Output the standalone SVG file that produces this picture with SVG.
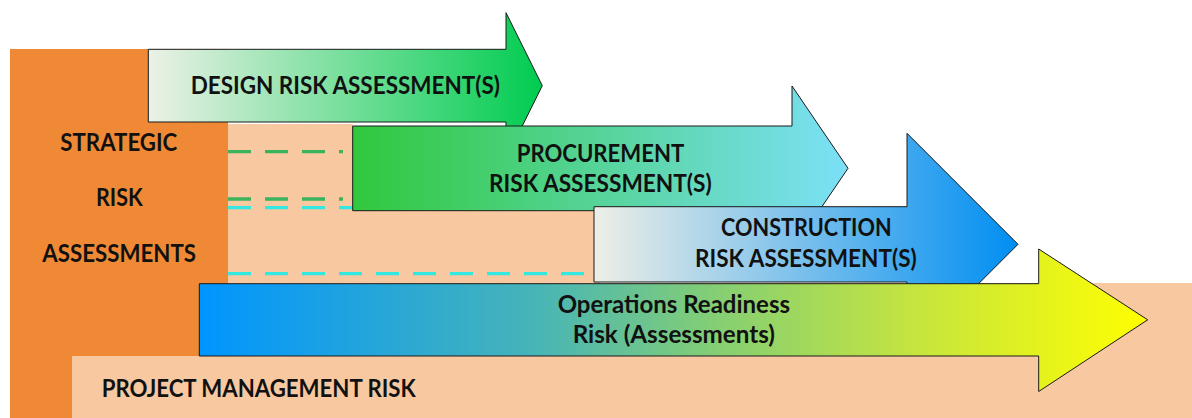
<svg xmlns="http://www.w3.org/2000/svg" width="1192" height="418" viewBox="0 0 1192 418">
<style>
.lbl{font-family:Lato,"Open Sans","Liberation Sans",sans-serif;font-weight:700;font-size:24px;fill:#111}
.arrow{stroke:#1a1a1a;stroke-width:1}
.dg{stroke:#3bb35c;stroke-width:3.3;stroke-dasharray:23 14;fill:none}
.dc{stroke:#33e8e0;stroke-width:3.3;stroke-dasharray:23 14;fill:none}
</style>
<defs>
<linearGradient id="gDesign" x1="0" y1="0" x2="1" y2="0">
<stop offset="0" stop-color="#ecf1e7"/>
<stop offset="1" stop-color="#00cc50"/>
</linearGradient>
<linearGradient id="gProc" x1="0" y1="0" x2="1" y2="0">
<stop offset="0" stop-color="#30c83c"/>
<stop offset="1" stop-color="#7ce0f8"/>
</linearGradient>
<linearGradient id="gCons" x1="0" y1="0" x2="1" y2="0">
<stop offset="0" stop-color="#eeefe6"/>
<stop offset="1" stop-color="#008ef2"/>
</linearGradient>
<linearGradient id="gOps" x1="0" y1="0" x2="1" y2="0">
<stop offset="0" stop-color="#0095ff"/>
<stop offset="0.35" stop-color="#46b4b8"/>
<stop offset="0.55" stop-color="#86cf72"/>
<stop offset="0.75" stop-color="#c4e440"/>
<stop offset="1" stop-color="#ffff00"/>
</linearGradient>
</defs>
<rect width="1192" height="418" fill="#ffffff"/>
<g id="project-management-risk">
<rect x="72" y="283" width="1120" height="135" fill="#f8c8a0"/>
<path d="M228,124 H353 V128 H600 V294 H228 Z" fill="#f8c8a0"/>
<text class="lbl" x="101.7" y="397.3" textLength="314" lengthAdjust="spacingAndGlyphs">PROJECT MANAGEMENT RISK</text>
</g>
<g id="strategic-risk-assessments">
<path d="M10,49 H228 V356 H72 V418 H10 Z" fill="#f08935"/>
<text class="lbl" x="60.3" y="150.7" textLength="117" lengthAdjust="spacingAndGlyphs">STRATEGIC</text>
<text class="lbl" x="96" y="206" textLength="46.7" lengthAdjust="spacingAndGlyphs">RISK</text>
<text class="lbl" x="42.3" y="261.7" textLength="153.7" lengthAdjust="spacingAndGlyphs">ASSESSMENTS</text>
</g>
<g id="connectors">
<line class="dg" x1="228" y1="151.7" x2="343" y2="151.7"/>
<line class="dg" x1="228" y1="199" x2="343" y2="199"/>
<line class="dc" x1="228" y1="207.7" x2="356" y2="207.7"/>
<line class="dc" x1="228" y1="273.7" x2="585" y2="273.7"/>
</g>
<g id="design-risk">
<path class="arrow" fill="url(#gDesign)" d="M148.3,49.3 H506 V12.7 L542.3,85.7 L506,158.7 V122 H148.3 Z"/>
<text class="lbl" x="190.7" y="94" textLength="309.3" lengthAdjust="spacingAndGlyphs">DESIGN RISK ASSESSMENT(S)</text>
</g>
<g id="procurement-risk">
<path class="arrow" fill="url(#gProc)" d="M352.7,126 H792 V86 L848,168.3 L792,250.7 V210.7 H352.7 Z"/>
<text class="lbl" x="516.7" y="161.7" textLength="167.6" lengthAdjust="spacingAndGlyphs">PROCUREMENT</text>
<text class="lbl" x="489" y="192.3" textLength="222.7" lengthAdjust="spacingAndGlyphs">RISK ASSESSMENT(S)</text>
</g>
<g id="construction-risk">
<path class="arrow" fill="url(#gCons)" d="M594,206.7 H907 V133.3 L1018,244.3 L907,355.3 V282 H594 Z"/>
<text class="lbl" x="721" y="236" textLength="170.7" lengthAdjust="spacingAndGlyphs">CONSTRUCTION</text>
<text class="lbl" x="695" y="266.5" textLength="221.7" lengthAdjust="spacingAndGlyphs">RISK ASSESSMENT(S)</text>
</g>
<g id="operations-readiness-risk">
<path class="arrow" fill="url(#gOps)" d="M199.3,283.7 H1038.7 V249 L1147.7,319.8 L1038.7,391.5 V356 H199.3 Z"/>
<text class="lbl" x="557.7" y="312.7" textLength="232.3" lengthAdjust="spacingAndGlyphs">Operations Readiness</text>
<text class="lbl" x="572.7" y="343" textLength="202.3" lengthAdjust="spacingAndGlyphs">Risk (Assessments)</text>
</g>
</svg>
